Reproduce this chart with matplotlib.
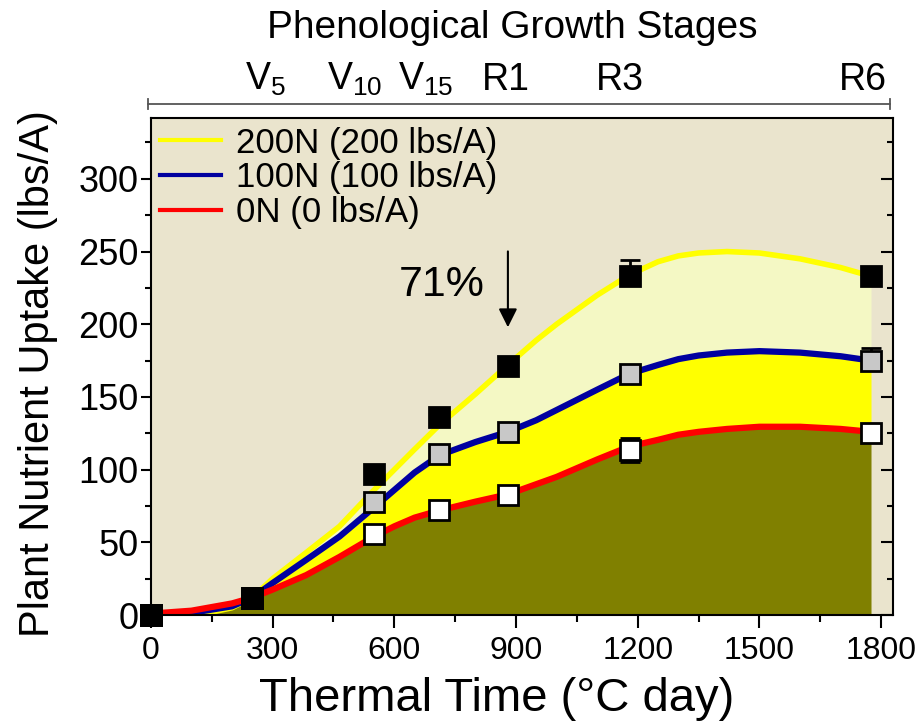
import matplotlib
matplotlib.use("Agg")
import matplotlib.pyplot as plt
import numpy as np
from matplotlib.lines import Line2D
from matplotlib.ticker import MultipleLocator
from matplotlib.transforms import blended_transform_factory

plt.rcParams["font.family"] = ["Liberation Sans", "DejaVu Sans"]
plt.rcParams["mathtext.fontset"] = "custom"
plt.rcParams["mathtext.rm"] = "Liberation Sans"
plt.rcParams["mathtext.it"] = "Liberation Sans"

# sampled thermal time (degC day) and observations
obs_x = [0, 250, 550, 710, 880, 1180, 1775]
obs_200n = [0, 12, 97, 136, 171.5, 233, 233]
obs_100n = [0, 12, 78, 111, 126, 166, 175]
obs_0n = [0, 12, 56, 72, 82.6, 113.6, 125]
# error bars (only the ones that stick out of the markers)
err_lo_200n = [0, 0, 0, 0, 0, 0, 0]
err_hi_200n = [0, 0, 0, 0, 0, 11, 0]
err_lo_100n = [0, 0, 0, 0, 0, 0, 0]
err_hi_100n = [0, 0, 0, 0, 0, 0, 9]
err_0n = [0, 0, 0, 0, 0, 8.5, 0]

# fitted curves
curve_x = [0, 100, 200, 250, 300, 383, 465, 550, 600, 650, 712, 800, 880,
           950, 1000, 1100, 1180, 1250, 1300, 1350, 1420, 1500, 1600, 1700, 1775]
fit_200n = [-3, -1, 5, 12, 25, 43, 61, 86, 100, 114, 131, 152, 172,
            189, 200, 220, 234, 243, 247, 249, 250, 249, 245, 239, 233]
fit_100n = [-1, 1.5, 6, 12, 22, 38, 54, 74, 86, 98, 110, 119, 126,
            134, 141, 155, 166, 172, 176, 178.5, 180.5, 181.5, 180.5, 178, 175]
fit_0n = [1, 3, 8, 12, 17.5, 27.5, 40, 54, 61, 67, 72, 78, 83,
          90, 95, 107, 116, 120.5, 124, 126, 128, 129.5, 129.5, 128, 126]

stage_names = [r"$\mathregular{V_{5}}$", r"$\mathregular{V_{10}}$", r"$\mathregular{V_{15}}$",
               "R1", "R3", "R6"]
stage_x = [283, 502, 678, 875, 1156, 1756]

BG = "#EAE4CD"
LIGHT = "#F4F8C4"
OLIVE = "#808000"

fig = plt.figure(figsize=(9.2, 7.27), dpi=100)
ax = fig.add_axes([0.164, 0.154, 0.807, 0.684])
ax.set_facecolor(BG)

cx = np.array(curve_x)
y2 = np.array(fit_200n)
y1 = np.array(fit_100n)
y0 = np.array(fit_0n)
low = np.minimum(np.minimum(y0, y1), y2)
ax.fill_between(cx, 0, low, where=low > 0, color=OLIVE, lw=0, interpolate=True, zorder=1)
ax.fill_between(cx, y0, y1, where=y1 > y0, color="#FFFF00", lw=0, interpolate=True, zorder=1)
ax.fill_between(cx, y1, y2, where=y2 > y1, color=LIGHT, lw=0, interpolate=True, zorder=1)

ax.plot(cx, y2, color="#FFFF00", lw=4, label="200N (200 lbs/A)", zorder=2)
ax.plot(cx, y1, color="#0000A0", lw=4.5, label="100N (100 lbs/A)", zorder=2)
ax.plot(cx, y0, color="#FF0000", lw=4.5, label="0N (0 lbs/A)", zorder=2)

ox = np.array(obs_x)
for ys, lo, hi, fc, z in [(obs_0n, err_0n, err_0n, "white", 3),
                          (obs_100n, err_lo_100n, err_hi_100n, "#C8C8C8", 4),
                          (obs_200n, err_lo_200n, err_hi_200n, "black", 5)]:
    ys, lo, hi = np.array(ys), np.array(lo), np.array(hi)
    keep = (lo > 0) | (hi > 0)
    ax.errorbar(ox[keep], ys[keep], yerr=[lo[keep], hi[keep]], fmt="none", ecolor="black",
                elinewidth=2, capsize=7.5, capthick=2, zorder=z)
    ax.plot(ox, ys, "s", ms=14.5, mfc=fc, mec="black", mew=2, zorder=z + 0.5, clip_on=False)

ax.annotate("", xy=(880, 196), xytext=(880, 252),
            arrowprops=dict(arrowstyle="-|>", color="black", lw=1.5, mutation_scale=28))
ax.text(717, 227, "71%", fontsize=31, ha="center", va="center")

ax.set_xlim(0, 1830)
ax.set_ylim(0, 342)
ax.xaxis.set_major_locator(MultipleLocator(300))
ax.xaxis.set_minor_locator(MultipleLocator(150))
ax.yaxis.set_major_locator(MultipleLocator(50))
ax.yaxis.set_minor_locator(MultipleLocator(25))
ax.tick_params(axis="both", which="major", width=1.5, color="black")
ax.tick_params(axis="x", which="major", direction="out", length=9, pad=6, labelsize=23)
ax.tick_params(axis="x", which="minor", direction="out", length=5, width=1.5)
ax.tick_params(axis="y", which="major", direction="out", length=7, pad=2, right=True, labelsize=26)
ax.tick_params(axis="y", which="minor", direction="out", length=4, width=1.5, right=True)
for t in ax.yaxis.get_major_ticks() + ax.yaxis.get_minor_ticks():
    t.tick2line.set_marker(matplotlib.lines.TICKLEFT)
for t in ax.yaxis.get_major_ticks():
    t.tick2line.set_markersize(9)
for s in ax.spines.values():
    s.set_linewidth(1.5)

ax.set_xlabel("Thermal Time (°C day)", fontsize=34)
ax.set_ylabel("Plant Nutrient Uptake (lbs/A)", fontsize=30)
ax.xaxis.set_label_coords(0.466, -0.125)
ax.yaxis.set_label_coords(-0.125, 0.485)

leg = ax.legend(loc="upper left", bbox_to_anchor=(-0.03, 1.045), frameon=False,
                fontsize=25, handlelength=1.75, handletextpad=0.45, labelspacing=0.05)
for ln in leg.get_lines():
    ln.set_linewidth(3)

# phenological stage header
trans = blended_transform_factory(ax.transData, fig.transFigure)
for name, sx in zip(stage_names, stage_x):
    fig.text(sx, 0.876, name, transform=trans, fontsize=27, ha="center", va="baseline")
fig.text(0.557, 0.948, "Phenological Growth Stages", fontsize=28, ha="center", va="baseline")
yl = 0.857
fig.add_artist(Line2D([0.161, 0.967], [yl, yl], color="#555555", lw=1.3, transform=fig.transFigure))
for xe in (0.161, 0.967):
    fig.add_artist(Line2D([xe, xe], [yl - 0.007, yl + 0.007], color="#555555", lw=1.3,
                          transform=fig.transFigure))

fig.savefig("out.png", dpi=100)
